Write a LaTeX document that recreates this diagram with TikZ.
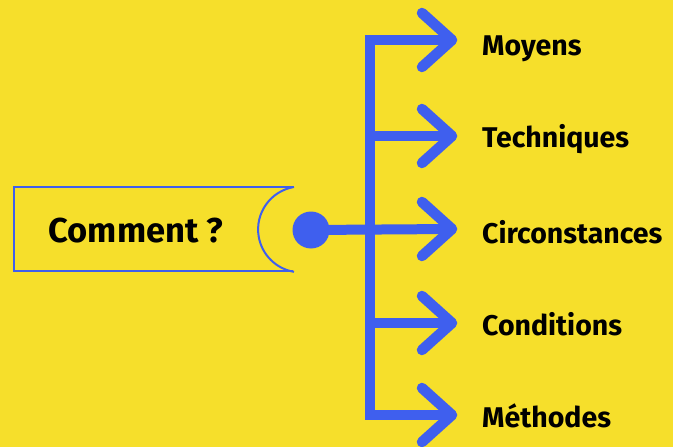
\documentclass[tikz,border=0pt]{standalone}
\usepackage{fontspec}
\usetikzlibrary{calc}
\setmainfont{Fira Sans}
\definecolor{bg}{HTML}{F6DF2B}
\definecolor{blu}{HTML}{3F5FEE}
\begin{document}
\begin{tikzpicture}[x=1pt,y=-1pt,
  branch/.style={draw=blu,line width=10pt,line cap=round,line join=miter},
  chevron/.style={draw=blu,line width=10.5pt,line cap=round,line join=round},
  item/.style={anchor=base west,inner sep=0pt,text=black,
    font=\bfseries\fontsize{28.5}{32}\selectfont},
  title/.style={anchor=base,inner sep=0pt,text=black,
    font=\bfseries\fontsize{34.5}{38}\selectfont}]
% background and page size
\fill[bg] (0,0) rectangle (673,447);
\useasboundingbox (0,0) rectangle (673,447);

% tag holding the question
\draw[blu,line width=2.5pt] (293,187) -- (14,187) -- (14,271) -- (293,271);
\draw[blu,line width=2pt] (294,187) arc[start angle=260.5,end angle=99.5,radius=43];
\node[title] (q) at (136,242) {Comment ?};

% hub dot
\node[circle,fill=blu,minimum size=37pt,inner sep=0pt] (hub) at (311,230) {};

% branch end points
\coordinate (s1) at (370,40);
\coordinate (s5) at (370,415);
\coordinate (t1) at (452,40);
\coordinate (t2) at (452,136);
\coordinate (t3) at (452,229);
\coordinate (t4) at (452,323);
\coordinate (t5) at (452,415);

% spine and branches
\draw[branch] (t1) -- (s1) -- (s5) -- (t5);
\draw[branch] (370,136) -- (t2);
\draw[branch] (hub.center) -- (t3);
\draw[branch] (370,323) -- (t4);

% arrow heads
\foreach \t in {t1,t2,t3,t4,t5}
  \draw[chevron] ($(\t)+(-30,-27)$) -- (\t) -- ($(\t)+(-30,27)$);

% labels
\node[item] (l1) at (482,56) {Moyens};
\node[item] (l2) at (482,147) {Techniques};
\node[item] (l3) at (482,243) {Circonstances};
\node[item] (l4) at (482,335) {Conditions};
\node[item] (l5) at (482,427) {Méthodes};
\end{tikzpicture}
\end{document}
